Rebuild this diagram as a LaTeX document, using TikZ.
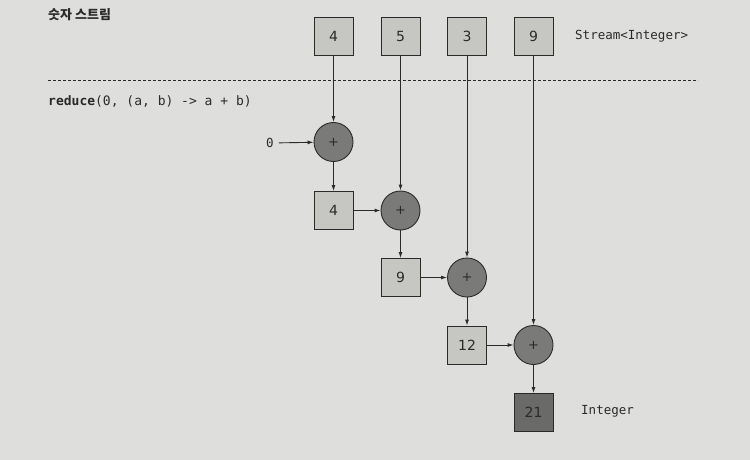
\documentclass[tikz,border=0pt]{standalone}
\usepackage{fontspec}
\setmainfont{DejaVu Sans}
\setmonofont{DejaVu Sans Mono}
\newfontfamily\krfont{Noto Sans CJK KR}
\usetikzlibrary{arrows.meta}
\definecolor{bg}{HTML}{DEDEDC}
\definecolor{boxfill}{HTML}{C6C6C2}
\definecolor{opfill}{HTML}{7A7A78}
\definecolor{resfill}{HTML}{6A6A68}
\definecolor{ink}{HTML}{2A2A2A}
\tikzset{
  valbox/.style={draw=ink, line width=0.9pt, fill=boxfill, minimum width=39pt, minimum height=38pt, inner sep=0pt, font=\fontsize{14}{16}\selectfont, text=ink},
  resbox/.style={valbox, fill=resfill},
  opnode/.style={draw=ink, line width=0.9pt, fill=opfill, circle, minimum size=39pt, inner sep=0pt, font=\fontsize{13}{15}\selectfont, text=ink},
  conn/.style={draw=ink, line width=0.9pt, -{Latex[length=6pt,width=4pt]}},
  label/.style={font=\ttfamily\fontsize{12.5}{14}\selectfont, text=ink, anchor=west, inner sep=0pt}
}
\begin{document}
\begin{tikzpicture}[x=1pt,y=-1pt]
\fill[bg] (0,0) rectangle (750,460);
\useasboundingbox (0,0) rectangle (750,460);
% header texts
\node[anchor=west, inner sep=0pt, font=\krfont\bfseries\fontsize{13}{15}\selectfont, text=ink] (title) at (48,15) {숫자 스트림};
\node[label] (stream) at (575,36) {Stream<Integer>};
\draw[ink, line width=0.8pt, dash pattern=on 3pt off 2pt] (48,80) coordinate (dl) -- (698,80) coordinate (dr);
\node[label, font=\ttfamily\fontsize{13}{15}\selectfont] (code) at (48,101) {\textbf{reduce}(0, (a, b) -> a + b)};
% stream elements
\node[valbox] (s4) at (333.5,36.5) {4};
\node[valbox] (s5) at (400.5,36.5) {5};
\node[valbox] (s3) at (467,36.5) {3};
\node[valbox] (s9) at (533.5,36.5) {9};
% initial value
\node[label, anchor=center, outer sep=5pt] (zero) at (270,143) {0};
% operations and intermediate results
\node[opnode] (p1) at (333.5,142) {+};
\node[valbox] (r4) at (333.5,210.5) {4};
\node[opnode] (p2) at (400.5,210.5) {+};
\node[valbox] (r9) at (400.5,277.5) {9};
\node[opnode] (p3) at (467,277.5) {+};
\node[valbox] (r12) at (467,345) {12};
\node[opnode] (p4) at (533.5,345) {+};
\node[resbox] (r21) at (533.5,412.5) {21};
\node[label] (intg) at (581,411) {Integer};
% connectors
\draw[conn] (zero) -- (p1);
\draw[conn] (s4) -- (p1);
\draw[conn] (p1) -- (r4);
\draw[conn] (r4) -- (p2);
\draw[conn] (s5) -- (p2);
\draw[conn] (p2) -- (r9);
\draw[conn] (r9) -- (p3);
\draw[conn] (s3) -- (p3);
\draw[conn] (p3) -- (r12);
\draw[conn] (r12) -- (p4);
\draw[conn] (s9) -- (p4);
\draw[conn] (p4) -- (r21);
\end{tikzpicture}
\end{document}
